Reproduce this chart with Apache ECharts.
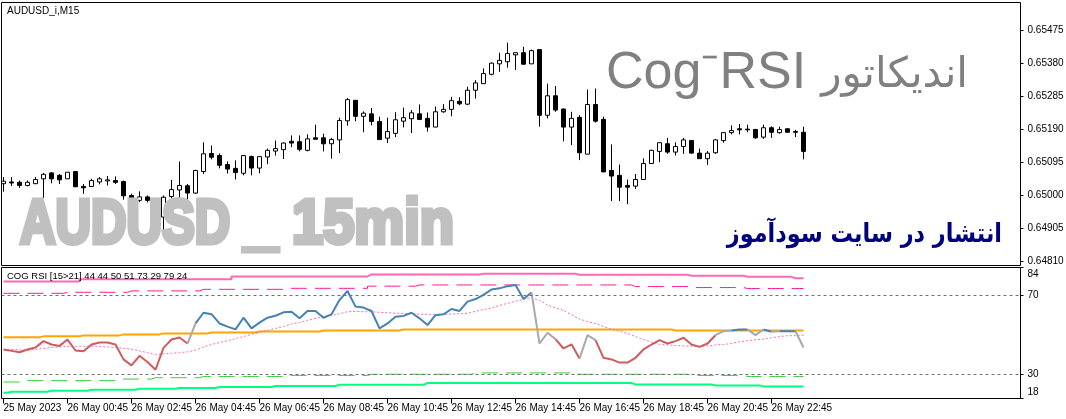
<!DOCTYPE html>
<html><head><meta charset="utf-8">
<script src="https://cdn.jsdelivr.net/npm/echarts@6/dist/echarts.min.js"></script>
<style>html,body{margin:0;padding:0;background:#fff}#c{width:1066px;height:419px}</style>
</head><body><div id="c"></div><script>
// ---------- data ----------
const priceTicks = [0.64810, 0.64905, 0.65000, 0.65095, 0.65190, 0.65285, 0.65380, 0.65475];
const rsiTicks = [18, 30, 70, 84];
const timeTickBars = [0, 8, 16, 24, 32, 40, 48, 56, 64, 72, 80, 88, 96];
const timeTickLabels = ['25 May 2023', '26 May 00:45', '26 May 02:45', '26 May 04:45', '26 May 06:45',
  '26 May 08:45', '26 May 10:45', '26 May 12:45', '26 May 14:45', '26 May 16:45', '26 May 18:45',
  '26 May 20:45', '26 May 22:45'];

const openP = [0.65034,0.65039,0.65038,0.65029,0.65034,0.65048,0.65065,0.65058,0.65048,0.65069,
0.65026,0.65026,0.65039,0.65042,0.65043,0.65040,0.65000,0.64986,0.64996,0.64986,
0.64938,0.64997,0.65016,0.65028,0.65007,0.65069,0.65121,0.65115,0.65089,0.65078,
0.65064,0.65112,0.65079,0.65111,0.65128,0.65132,0.65156,0.65155,0.65130,0.65166,
0.65166,0.65149,0.65160,0.65215,0.65274,0.65228,0.65235,0.65213,0.65165,0.65179,
0.65214,0.65221,0.65235,0.65222,0.65197,0.65241,0.65248,0.65271,0.65263,0.65303,
0.65322,0.65349,0.65379,0.65385,0.65405,0.65411,0.65379,0.65420,0.65231,0.65287,
0.65249,0.65197,0.65225,0.65119,0.65262,0.65219,0.65072,0.65058,0.65029,0.65027,
0.65046,0.65092,0.65127,0.65149,0.65125,0.65141,0.65158,0.65122,0.65106,0.65123,
0.65158,0.65181,0.65192,0.65191,0.65190,0.65168,0.65195,0.65181,0.65192,0.65184,
0.65182];
const closeP = [0.65041,0.65036,0.65029,0.65038,0.65046,0.65061,0.65048,0.65045,0.65067,0.65025,
0.65022,0.65043,0.65048,0.65045,0.65038,0.64999,0.64988,0.64996,0.64986,0.64940,
0.64995,0.65017,0.65029,0.65007,0.65072,0.65120,0.65110,0.65087,0.65076,0.65066,
0.65115,0.65079,0.65112,0.65130,0.65135,0.65151,0.65151,0.65133,0.65163,0.65162,
0.65149,0.65161,0.65216,0.65276,0.65228,0.65237,0.65213,0.65161,0.65184,0.65218,
0.65224,0.65238,0.65219,0.65197,0.65241,0.65248,0.65273,0.65264,0.65303,0.65324,
0.65351,0.65381,0.65389,0.65409,0.65411,0.65378,0.65417,0.65231,0.65287,0.65246,
0.65197,0.65222,0.65123,0.65262,0.65214,0.65068,0.65056,0.65024,0.65024,0.65046,
0.65092,0.65130,0.65152,0.65125,0.65141,0.65160,0.65122,0.65106,0.65122,0.65160,
0.65181,0.65187,0.65189,0.65189,0.65166,0.65195,0.65182,0.65190,0.65182,0.65182,
0.65127];
const lowP = [0.65011,0.65027,0.65022,0.65026,0.65033,0.64993,0.65035,0.65033,0.65048,0.65025,
0.65005,0.65026,0.65032,0.65029,0.65033,0.64988,0.64983,0.64981,0.64980,0.64934,
0.64899,0.64991,0.64991,0.64986,0.65005,0.65062,0.65104,0.65078,0.65063,0.65046,
0.65058,0.65058,0.65064,0.65090,0.65115,0.65105,0.65139,0.65127,0.65127,0.65162,
0.65127,0.65106,0.65122,0.65201,0.65214,0.65182,0.65202,0.65161,0.65151,0.65168,
0.65196,0.65180,0.65217,0.65184,0.65197,0.65238,0.65228,0.65260,0.65260,0.65279,
0.65322,0.65346,0.65356,0.65368,0.65361,0.65377,0.65379,0.65198,0.65222,0.65241,
0.65156,0.65145,0.65102,0.65119,0.65210,0.65067,0.64984,0.64984,0.64975,0.65019,
0.65046,0.65092,0.65096,0.65120,0.65115,0.65120,0.65120,0.65106,0.65088,0.65120,
0.65152,0.65176,0.65176,0.65182,0.65163,0.65163,0.65166,0.65178,0.65182,0.65168,
0.65104];
const highP = [0.65053,0.65053,0.65043,0.65043,0.65053,0.65065,0.65067,0.65062,0.65067,0.65069,
0.65033,0.65048,0.65053,0.65056,0.65055,0.65043,0.65005,0.65012,0.65000,0.64992,
0.65000,0.65045,0.65098,0.65033,0.65074,0.65153,0.65144,0.65121,0.65098,0.65101,
0.65115,0.65115,0.65112,0.65135,0.65158,0.65153,0.65173,0.65173,0.65176,0.65204,
0.65178,0.65166,0.65224,0.65281,0.65274,0.65242,0.65252,0.65227,0.65224,0.65240,
0.65253,0.65246,0.65262,0.65239,0.65256,0.65263,0.65284,0.65283,0.65313,0.65332,
0.65366,0.65383,0.65411,0.65440,0.65411,0.65428,0.65420,0.65420,0.65322,0.65315,
0.65250,0.65241,0.65231,0.65305,0.65308,0.65227,0.65147,0.65089,0.65046,0.65062,
0.65107,0.65132,0.65152,0.65166,0.65153,0.65166,0.65160,0.65135,0.65128,0.65163,
0.65182,0.65202,0.65206,0.65204,0.65192,0.65204,0.65199,0.65198,0.65194,0.65189,
0.65198];

const rsi = [42.7,42.0,41.3,42.7,43.7,46.9,45.2,44.5,47.7,42.2,
41.8,45.2,46.2,46.2,45.2,37.7,34.7,39.5,36.4,32.5,
43.5,47.7,48.7,45.7,55.8,61.2,60.5,55.8,54.2,52.8,
58.7,53.3,56.2,58.7,59.7,61.4,61.7,58.4,62.1,62.1,
58.7,60.4,67.6,72.2,64.3,63.8,62.1,53.3,55.8,59.2,
59.6,61.2,58.4,55.0,60.0,60.4,63.1,62.1,66.8,68.1,
70.2,72.9,73.5,74.6,75.2,68.1,71.4,45.7,51.1,47.9,
43.2,45.3,38.1,49.9,47.4,38.5,37.7,36.1,36.1,38.5,
42.7,45.2,47.4,45.7,46.9,48.6,45.2,44.0,45.7,49.9,
51.9,52.3,52.8,52.8,49.9,52.8,51.6,51.9,51.9,51.9,
43.7];
const rsiSignal = [42.7,42.7,42.5,42.3,42.7,43.2,43.7,44.0,44.2,44.3,
44.3,44.3,44.2,44.0,43.7,43.3,42.8,42.0,41.1,40.1,
40.5,40.8,41.1,41.5,42.3,44.0,45.2,46.2,47.1,48.2,
49.2,50.3,51.3,52.4,53.3,54.3,55.5,56.3,57.3,58.4,
59.2,59.9,60.7,61.7,61.9,61.7,61.7,61.4,61.2,61.0,
60.9,60.7,60.5,60.4,60.4,60.4,60.5,60.7,60.9,61.9,
62.8,63.6,64.9,65.9,67.0,68.0,68.8,67.5,65.1,63.6,
62.4,60.2,58.0,56.8,55.8,54.3,52.9,51.9,50.8,49.2,
47.7,46.4,45.3,45.0,44.7,44.5,44.3,44.3,44.5,45.0,
45.2,45.7,46.6,47.1,47.6,47.9,48.6,49.2,49.6,49.7,
49.9];
// segment colour runs of the RSI line: [firstBar, lastBar, state] (segment ends at bar)
const rsiColorRuns = [[1,23,'down'],[24,24,'flat'],[25,66,'up'],[67,69,'flat'],[70,72,'down'],
  [73,74,'flat'],[75,89,'down'],[90,91,'flat'],[92,93,'up'],[94,95,'flat'],[96,96,'up'],
  [97,97,'flat'],[98,99,'up'],[100,100,'flat']];
// step bands: [firstBar, lastBar, value]
const midRuns = [[0,4,48.8],[5,9,49.3],[10,14,49.8],[15,19,50.3],[20,25,50.8],[26,31,51.3],
  [32,39,51.8],[40,49,52.3],[50,83,52.8],[84,100,52.3]];
const upperRuns = [[0,9,77.0],[10,28,78.1],[29,45,79.5],[46,59,80.5],[60,71,80.8],[72,85,80.3],
  [86,92,79.8],[93,98,79.3],[99,100,78.6]];
const upperDashRuns = [[0,7,71.0],[8,15,71.5],[16,24,72.2],[25,35,73.0],[36,45,73.5],[46,51,74.6],
  [52,78,75.2],[79,85,74.4],[86,92,73.9],[93,100,73.4]];
const lowerDashRuns = [[0,2,26.3],[3,14,27.0],[15,18,27.8],[19,24,28.5],[25,35,29.1],[36,45,29.6],
  [46,58,30.2],[59,71,30.9],[72,85,30.2],[86,92,29.6],[93,100,29.1]];
const lowerRuns = [[0,0,20.9],[1,5,21.4],[6,10,21.9],[11,16,22.4],[17,21,22.9],[22,26,23.3],
  [27,33,23.8],[34,41,24.3],[42,52,24.9],[53,78,25.8],[79,88,25.1],[89,94,24.6],[95,100,24.1]];
const levels = [70, 30];

// ---------- build ----------
const candles = openP.map((o, i) => [i, o, closeP[i], lowP[i], highP[i]]);
function expandRuns(runs) {
  const out = [];
  runs.forEach(r => { for (let i = r[0]; i <= r[1]; i++) out.push([i, r[2]]); });
  return out;
}
function rsiPart(state) {
  const out = [];
  rsiColorRuns.filter(r => r[2] === state).forEach(r => {
    for (let i = r[0] - 1; i <= r[1]; i++) out.push([i, rsi[i]]);
    out.push([r[1], null]);
  });
  return out;
}
const FONT = 'Liberation Sans';
const xMin = -0.25, xMax = 127.125;
const priceMin = 0.64798486, priceMax = 0.65555606;

const chart = echarts.init(document.getElementById('c'), null, {renderer: 'canvas'});
const lineBase = {type: 'line', showSymbol: false, symbol: 'none', xAxisIndex: 1, yAxisIndex: 1,
  animation: false, silent: true, connectNulls: false};
const bigFont = 'bold 63px "Liberation Sans"';
function bigText(text, x, sx) {
  return {type: 'text', x: x, y: 226, z: 100, silent: true, scaleX: sx,
    style: {text: text, fill: '#c0c0c0', stroke: '#c0c0c0', lineWidth: 5, font: bigFont,
      align: 'left', verticalAlign: 'middle', textAlign: 'left', textVerticalAlign: 'middle'}};
}
chart.setOption({
  animation: false,
  backgroundColor: '#ffffff',
  textStyle: {fontFamily: FONT},
  grid: [
    {left: 1.5, top: 2.5, width: 1019, height: 263, show: true, borderColor: '#000', borderWidth: 1,
      backgroundColor: 'transparent', containLabel: false, outerBoundsMode: 'none'},
    {left: 1.5, top: 267.5, width: 1019, height: 131, show: true, borderColor: '#000', borderWidth: 1,
      backgroundColor: 'transparent', containLabel: false, outerBoundsMode: 'none'}
  ],
  xAxis: [
    {type: 'value', gridIndex: 0, min: xMin, max: xMax, show: false},
    {type: 'value', gridIndex: 1, min: xMin, max: xMax, position: 'bottom',
      axisLine: {show: false, onZero: false}, splitLine: {show: false},
      axisTick: {show: true, customValues: timeTickBars, length: 5, lineStyle: {color: '#000'}},
      axisLabel: {show: true, customValues: timeTickBars, align: 'left', margin: 5,
        color: '#000', fontSize: 10, fontFamily: FONT,
        formatter: v => timeTickLabels[timeTickBars.indexOf(Math.round(v))] || ''}}
  ],
  yAxis: [
    {type: 'value', gridIndex: 0, min: priceMin, max: priceMax, position: 'right',
      axisLine: {show: false, onZero: false}, splitLine: {show: false},
      axisTick: {show: true, customValues: priceTicks, length: 3, lineStyle: {color: '#000'}},
      axisLabel: {show: true, customValues: priceTicks, margin: 7, color: '#000', fontSize: 10,
        fontFamily: FONT, formatter: v => v.toFixed(5)}},
    {type: 'value', gridIndex: 1, min: 18, max: 84, position: 'right',
      axisLine: {show: false, onZero: false}, splitLine: {show: false},
      axisTick: {show: true, customValues: rsiTicks, length: 3, lineStyle: {color: '#000'}},
      axisLabel: {show: true, customValues: rsiTicks, margin: 7, color: '#000', fontSize: 10,
        fontFamily: FONT,
        formatter: v => v === 84 ? '{t|84}' : (v === 18 ? '{b|18}' : String(v)),
        rich: {t: {padding: [13, 0, 0, 0], fontSize: 10, color: '#000'},
               b: {padding: [0, 0, 12, 0], fontSize: 10, color: '#000'}}}}
  ],
  series: [
    {type: 'candlestick', xAxisIndex: 0, yAxisIndex: 0, data: candles, encode: {x: 0, y: [1, 2, 3, 4]},
      barWidth: 4, silent: true, animation: false,
      itemStyle: {color: '#ffffff', color0: '#000000', borderColor: '#000000', borderColor0: '#000000',
        borderWidth: 1}},
    Object.assign({}, lineBase, {data: expandRuns(upperRuns), step: 'middle',
      lineStyle: {color: '#ff69b4', width: 2}}),
    Object.assign({}, lineBase, {data: expandRuns(upperDashRuns), step: 'middle',
      lineStyle: {color: '#ff1493', width: 1, type: [16, 8]}}),
    Object.assign({}, lineBase, {data: expandRuns(midRuns), step: 'middle',
      lineStyle: {color: '#ffa500', width: 2}}),
    Object.assign({}, lineBase, {data: expandRuns(lowerDashRuns), step: 'middle',
      lineStyle: {color: '#32cd32', width: 1, type: [16, 8]}}),
    Object.assign({}, lineBase, {data: expandRuns(lowerRuns), step: 'middle',
      lineStyle: {color: '#00ff7f', width: 2}}),
    Object.assign({}, lineBase, {data: rsiSignal.map((v, i) => [i, v]),
      lineStyle: {color: '#ff69b4', width: 1, type: [2, 2]},
      markLine: {silent: true, symbol: 'none', label: {show: false}, animation: false,
        lineStyle: {color: '#707070', width: 1, type: [3, 3]},
        data: levels.map(l => ({yAxis: l}))}}),
    Object.assign({}, lineBase, {data: rsiPart('down'), lineStyle: {color: '#cd5c5c', width: 2}}),
    Object.assign({}, lineBase, {data: rsiPart('up'), lineStyle: {color: '#4682b4', width: 2}}),
    Object.assign({}, lineBase, {data: rsiPart('flat'), lineStyle: {color: '#a9a9a9', width: 2}})
  ],
  graphic: [
    {type: 'text', x: 7, y: 11, z: 100, silent: true,
      style: {text: 'AUDUSD_i,M15', fill: '#000', font: '10px "Liberation Sans"',
        align: 'left', verticalAlign: 'middle', textAlign: 'left', textVerticalAlign: 'middle'}},
    {type: 'text', x: 7, y: 276, z: 100, silent: true,
      style: {text: 'COG RSI [15>21] 44 44 50 51 73 29 79 24', fill: '#000', font: '9.5px "Liberation Sans"',
        align: 'left', verticalAlign: 'middle', textAlign: 'left', textVerticalAlign: 'middle'}},
    bigText('AUDUSD', 20, 0.78),
    bigText('_', 244, 0.96),
    bigText('15min', 292, 0.89),
    {type: 'text', x: 606, y: 74, z: 100, silent: true,
      style: {text: 'Cog\u207BRSI', fill: '#808080', font: '52px "Liberation Sans"',
        align: 'left', verticalAlign: 'middle', textAlign: 'left', textVerticalAlign: 'middle'}},
    {type: 'text', x: 968, y: 76, z: 100, silent: true,
      style: {text: 'اندیکاتور', fill: '#808080', font: '42px "DejaVu Sans"',
        align: 'right', verticalAlign: 'middle', textAlign: 'right', textVerticalAlign: 'middle'}},
    {type: 'text', x: 1002, y: 235, z: 100, silent: true, scaleX: 0.86,
      style: {text: 'انتشار در سایت سودآموز', fill: '#000080', font: 'bold 26px "DejaVu Sans"',
        align: 'right', verticalAlign: 'middle', textAlign: 'right', textVerticalAlign: 'middle'}}
  ]
});
</script></body></html>
